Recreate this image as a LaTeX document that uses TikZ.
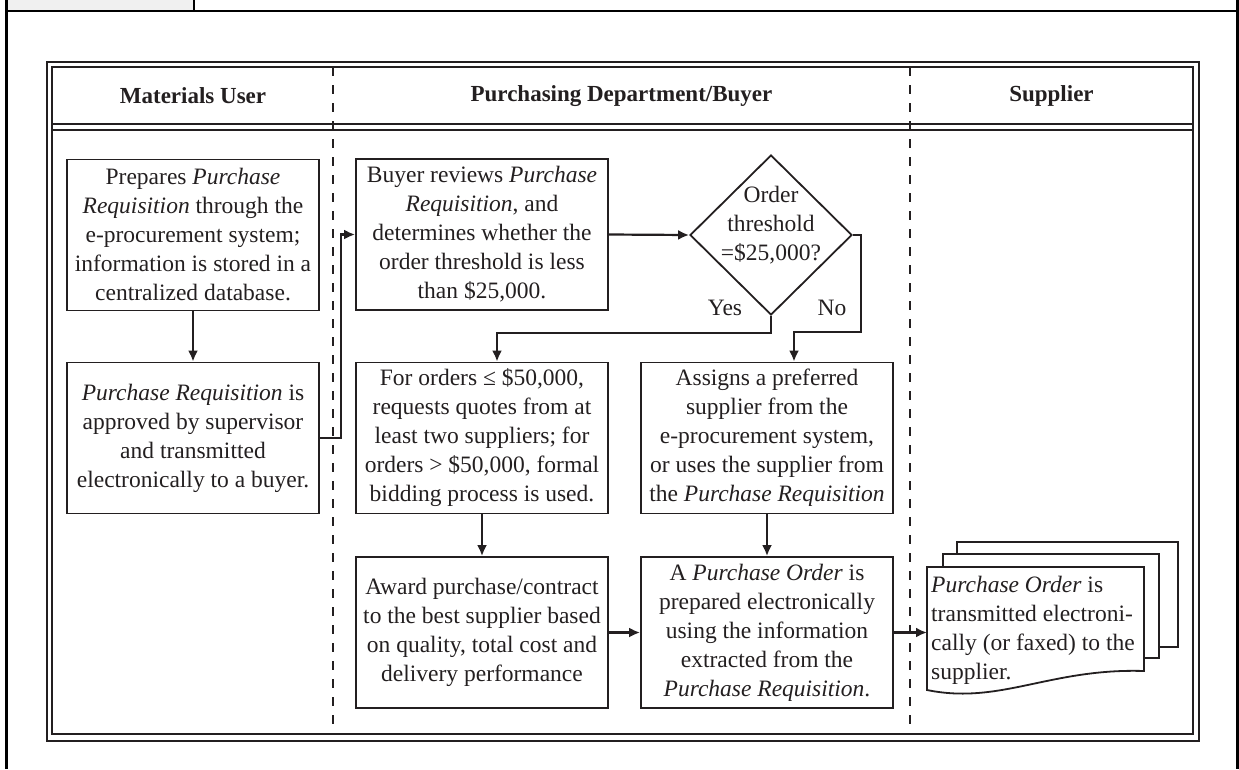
\documentclass[tikz,border=0pt]{standalone}
\usepackage{fontspec}
\setmainfont{Liberation Serif}
\usetikzlibrary{arrows.meta,shapes.geometric}
\definecolor{ink}{HTML}{231F20}
\definecolor{tabgrey}{HTML}{F0F0F0}
\begin{document}
\begin{tikzpicture}[x=1pt,y=-1pt,
  every node/.style={text=ink},
  stepbox/.style={draw=ink,line width=1.8pt,minimum width=252pt,minimum height=151pt,
    inner xsep=1pt,align=center,font=\fontsize{23.5}{29}\selectfont},
  lbl/.style={font=\fontsize{23.5}{29}\selectfont,inner sep=0pt,align=center},
  head/.style={font=\fontsize{23}{28}\selectfont\bfseries,inner sep=0pt},
  arr/.style={draw=ink,line width=2.2pt,-{Latex[length=11pt,width=10pt]}},
  frameline/.style={draw=ink,line width=2.5pt},
  divider/.style={draw=ink,line width=2.2pt,dash pattern=on 9pt off 9pt},
  docpage/.style={draw=ink,line width=1.8pt,fill=white}]
\useasboundingbox (0,0) rectangle (1239,769);

% page furniture
\fill[tabgrey] (6,-2) rectangle (194,11);
\draw[black,line width=1.5pt] (194,-2) -- (194,11);
\draw[black,line width=1.5pt] (6,11) -- (1236,11);
\draw[black,line width=2.2pt] (6.5,0) -- (6.5,769);
\draw[black,line width=3pt] (1237,0) -- (1237,769);

% double frame of the swimlane chart
\draw[frameline] (47,62) rectangle (1199,741);
\draw[frameline] (52,67) rectangle (1193,734);
\draw[ink,line width=2.2pt] (52,124) -- (1193,124);
\draw[ink,line width=2.2pt] (52,130) -- (1193,130);
\draw[divider] (333,67) -- (333,734);
\draw[divider] (910,67) -- (910,734);

% lane headings
\node[head] (h1) at (193,96) {Materials User};
\node[head] (h2) at (621.5,96) {Purchasing Department/Buyer};
\node[head] (h3) at (1051.5,96) {Supplier};

% process steps
\node[stepbox] (prep) at (193,235) {Prepares \textit{Purchase}\\\textit{Requisition} through the\\e-procurement system;\\information is stored in a\\centralized database.};
\node[stepbox] (appr) at (193,438) {\textit{Purchase Requisition} is\\approved by supervisor\\and transmitted\\electronically to a buyer.};
\node[stepbox] (buyer) at (482,234.5) {Buyer reviews \textit{Purchase}\\\textit{Requisition}, and\\determines whether the\\order threshold is less\\than \$25,000.};
\node[stepbox] (forord) at (482,438) {For orders ≤ \$50,000,\\requests quotes from at\\least two suppliers; for\\orders > \$50,000, formal\\bidding process is used.};
\node[stepbox] (assign) at (767,438) {Assigns a preferred\\supplier from the\\e-procurement system,\\or uses the supplier from\\the \textit{Purchase Requisition}};
\node[stepbox] (award) at (482,632.5) {Award purchase/contract\\to the best supplier based\\on quality, total cost and\\delivery performance};
\node[stepbox] (po) at (767,632.5) {A \textit{Purchase Order} is\\prepared electronically\\using the information\\extracted from the\\\textit{Purchase Requisition}.};

% decision
\node[diamond,draw=ink,line width=1.8pt,minimum width=162pt,minimum height=160pt,inner sep=0pt] (dia) at (771,235) {};
\node[lbl] (dtext) at (771,225) {Order\\threshold\\=\$25,000?};
\node[lbl] (yes) at (725,308) {Yes};
\node[lbl] (no) at (832,308) {No};

% stacked documents in the supplier lane
\draw[docpage] (957,542) rectangle (1178,647);
\draw[docpage] (943,554) rectangle (1159,658);
\draw[docpage] (927,567) -- (1144,567) -- (1144,671)
  .. controls (1050,668) and (1000,705) .. (927,690) -- cycle;
\coordinate (docedge) at (927,632.5);
\node[anchor=west,inner sep=0pt,align=left,font=\fontsize{23.5}{29}\selectfont] (doc) at (931,630)
  {\textit{Purchase Order} is\\transmitted electroni-\\cally (or faxed) to the\\supplier.};

% flow
\draw[arr] (prep.south) -- (appr.north);
\draw[arr] (appr.east) -- ++(21,0) |- (buyer.west);
\draw[arr] (buyer.east) -- (dia.west);
\draw[arr] (dia.south) -- ++(0,17) -| ([xshift=15pt]forord.north);
\draw[arr] (dia.east) -- ++(8,0) -- ++(0,97) -| ([xshift=27pt]assign.north);
\draw[arr] (forord.south) -- (award.north);
\draw[arr] (assign.south) -- (po.north);
\draw[arr] (award.east) -- (po.west);
\draw[arr] (po.east) -- (docedge);
\end{tikzpicture}
\end{document}
